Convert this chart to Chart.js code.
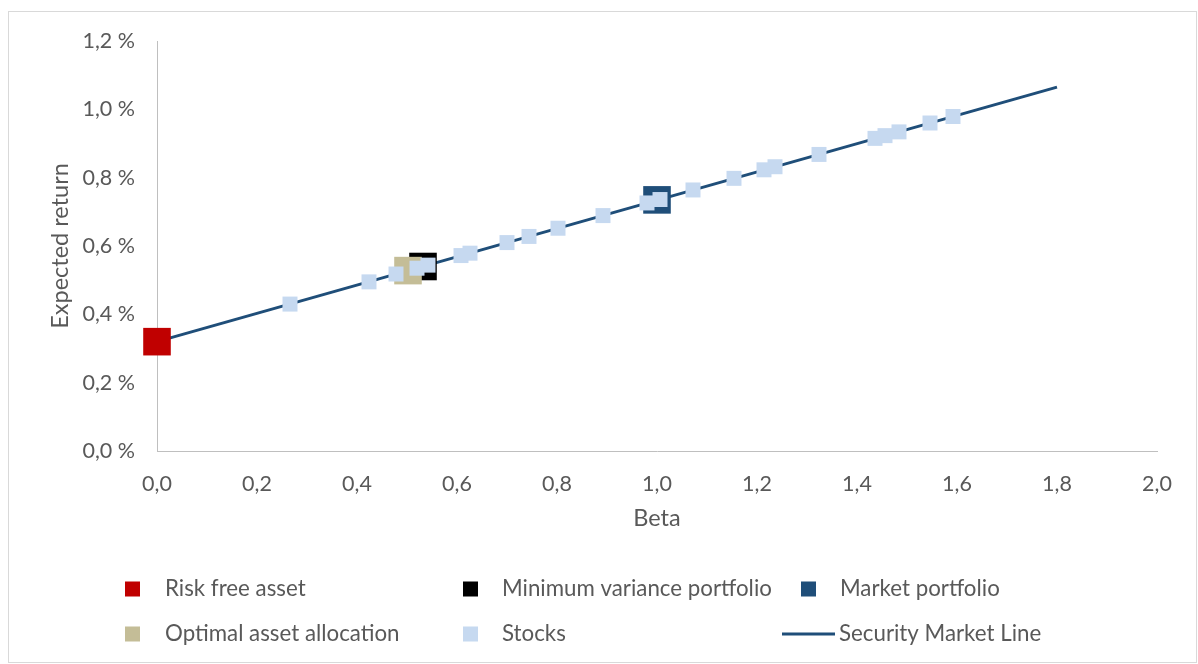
<!DOCTYPE html>
<html lang="en">
<head>
  <meta charset="UTF-8"/>
  <title>Security Market Line</title>
  <style>
    html, body { margin: 0; padding: 0; background: #fff; }
    #wrap { position: relative; width: 1198px; height: 664px; }
  </style>
</head>
<body>
  <div id="wrap"><canvas id="smlChart" width="1198" height="664"></canvas></div>
  <script src="https://cdn.jsdelivr.net/npm/chart.js"></script>
  <script>
    // values (beta, expected return in %)
    const stockBeta = [0.266, 0.424, 0.478, 0.52, 0.542, 0.608, 0.626, 0.70, 0.744, 0.802, 0.892,
      0.98, 1.006, 1.072, 1.154, 1.214, 1.236, 1.324, 1.436, 1.456, 1.484, 1.546, 1.592]
    const stockReturn = [0.430, 0.495, 0.518, 0.535, 0.544, 0.572, 0.579, 0.610, 0.628, 0.652, 0.689,
      0.726, 0.736, 0.764, 0.798, 0.823, 0.832, 0.868, 0.915, 0.923, 0.934, 0.960, 0.979]
    const riskFree = { beta: [0], ret: [0.32] }
    const minVar = { beta: [0.532], ret: [0.540] }
    const market = { beta: [1.0], ret: [0.735] }
    const optimal = { beta: [0.502], ret: [0.528] }
    const smlBeta = [0, 1.8]
    const smlReturn = [0.32, 1.065]
    const xTicks = [0, 0.2, 0.4, 0.6, 0.8, 1.0, 1.2, 1.4, 1.6, 1.8, 2.0]
    const yTicks = [0, 0.2, 0.4, 0.6, 0.8, 1.0, 1.2]

    const pts = (xs, ys) => xs.map((x, i) => ({ x: x, y: ys[i] }))
    const FONT = 'Lato, "Noto Sans", sans-serif'
    const TXT = '#595959'

    // legend slots: [markerX, textX, y]
    const legendSlots = [[125, 165, 589], [463, 502, 589], [801, 840, 589],
      [125, 165, 634], [463, 502, 634], [782, 839, 634]]

    const frameAndLegend = {
      id: 'frameAndLegend',
      beforeDraw(chart) {
        const c = chart.ctx
        c.save()
        c.strokeStyle = '#d9d9d9'
        c.lineWidth = 1
        c.strokeRect(8.5, 11.5, 1188, 651)
        c.restore()
      },
      afterDraw(chart) {
        const c = chart.ctx
        c.save()
        c.font = '22.3px ' + FONT
        c.textBaseline = 'middle'
        chart.data.datasets.forEach((ds, i) => {
          const [mx, tx, y] = legendSlots[i]
          if (ds.showLine) {
            c.strokeStyle = ds.borderColor
            c.lineWidth = 3
            c.beginPath(); c.moveTo(mx, y); c.lineTo(mx + 53, y); c.stroke()
          } else {
            c.fillStyle = ds.backgroundColor
            c.fillRect(mx, y - 7.5, 15, 15)
          }
          c.fillStyle = TXT
          c.fillText(ds.label, tx, y)
        })
        c.restore()
      }
    }

    const fmt = v => v.toFixed(1).replace('.', ',')

    new Chart(document.getElementById('smlChart'), {
      type: 'scatter',
      data: {
        datasets: [
          { label: 'Risk free asset', data: pts(riskFree.beta, riskFree.ret), backgroundColor: '#c00000',
            borderColor: '#c00000', pointStyle: 'rect', pointRadius: 19.5, borderWidth: 0, order: 1, clip: false },
          { label: 'Minimum variance portfolio', data: pts(minVar.beta, minVar.ret), backgroundColor: '#000000',
            borderColor: '#000000', pointStyle: 'rect', pointRadius: 19.5, borderWidth: 0, order: 3, clip: false },
          { label: 'Market portfolio', data: pts(market.beta, market.ret), backgroundColor: '#1f4e79',
            borderColor: '#1f4e79', pointStyle: 'rect', pointRadius: 19.5, borderWidth: 0, order: 4, clip: false },
          { label: 'Optimal asset allocation', data: pts(optimal.beta, optimal.ret), backgroundColor: '#c4bd97',
            borderColor: '#c4bd97', pointStyle: 'rect', pointRadius: 19.5, borderWidth: 0, order: 2, clip: false },
          { label: 'Stocks', data: pts(stockBeta, stockReturn), backgroundColor: '#c6d9f0',
            borderColor: '#c6d9f0', pointStyle: 'rect', pointRadius: 10.6, borderWidth: 0, order: 0, clip: false },
          { label: 'Security Market Line', data: pts(smlBeta, smlReturn), showLine: true,
            borderColor: '#1f4e79', backgroundColor: '#1f4e79', borderWidth: 3, pointRadius: 0, order: 5, clip: false }
        ]
      },
      options: {
        responsive: false,
        animation: false,
        layout: { padding: { left: 0, top: 41, right: 41, bottom: 131 } },
        plugins: { legend: { display: false }, tooltip: { enabled: false } },
        scales: {
          x: {
            type: 'linear', min: 0, max: 2.0,
            afterFit: s => { s.height = 82 },
            afterBuildTicks: s => { s.ticks = xTicks.map(v => ({ value: v })) },
            grid: { display: false, drawTicks: false },
            border: { display: true, color: '#bfbfbf', width: 1 },
            ticks: { color: TXT, font: { family: FONT, size: 21.5 }, padding: 20, callback: v => fmt(v) },
            title: { display: true, text: 'Beta', color: TXT, font: { family: FONT, size: 23.5 }, padding: { top: 0, bottom: 0 } }
          },
          y: {
            type: 'linear', min: 0, max: 1.2,
            afterFit: s => { s.width = 157 },
            afterBuildTicks: s => { s.ticks = yTicks.map(v => ({ value: v })) },
            grid: { display: false, drawTicks: false },
            border: { display: true, color: '#bfbfbf', width: 1 },
            ticks: { color: TXT, font: { family: FONT, size: 21.5 }, padding: 22, callback: v => fmt(v) + ' %' },
            title: { display: true, text: 'Expected return', color: TXT, font: { family: FONT, size: 23.5 }, padding: { top: 46, bottom: 0 } }
          }
        }
      },
      plugins: [frameAndLegend]
    })
  </script>
</body>
</html>
